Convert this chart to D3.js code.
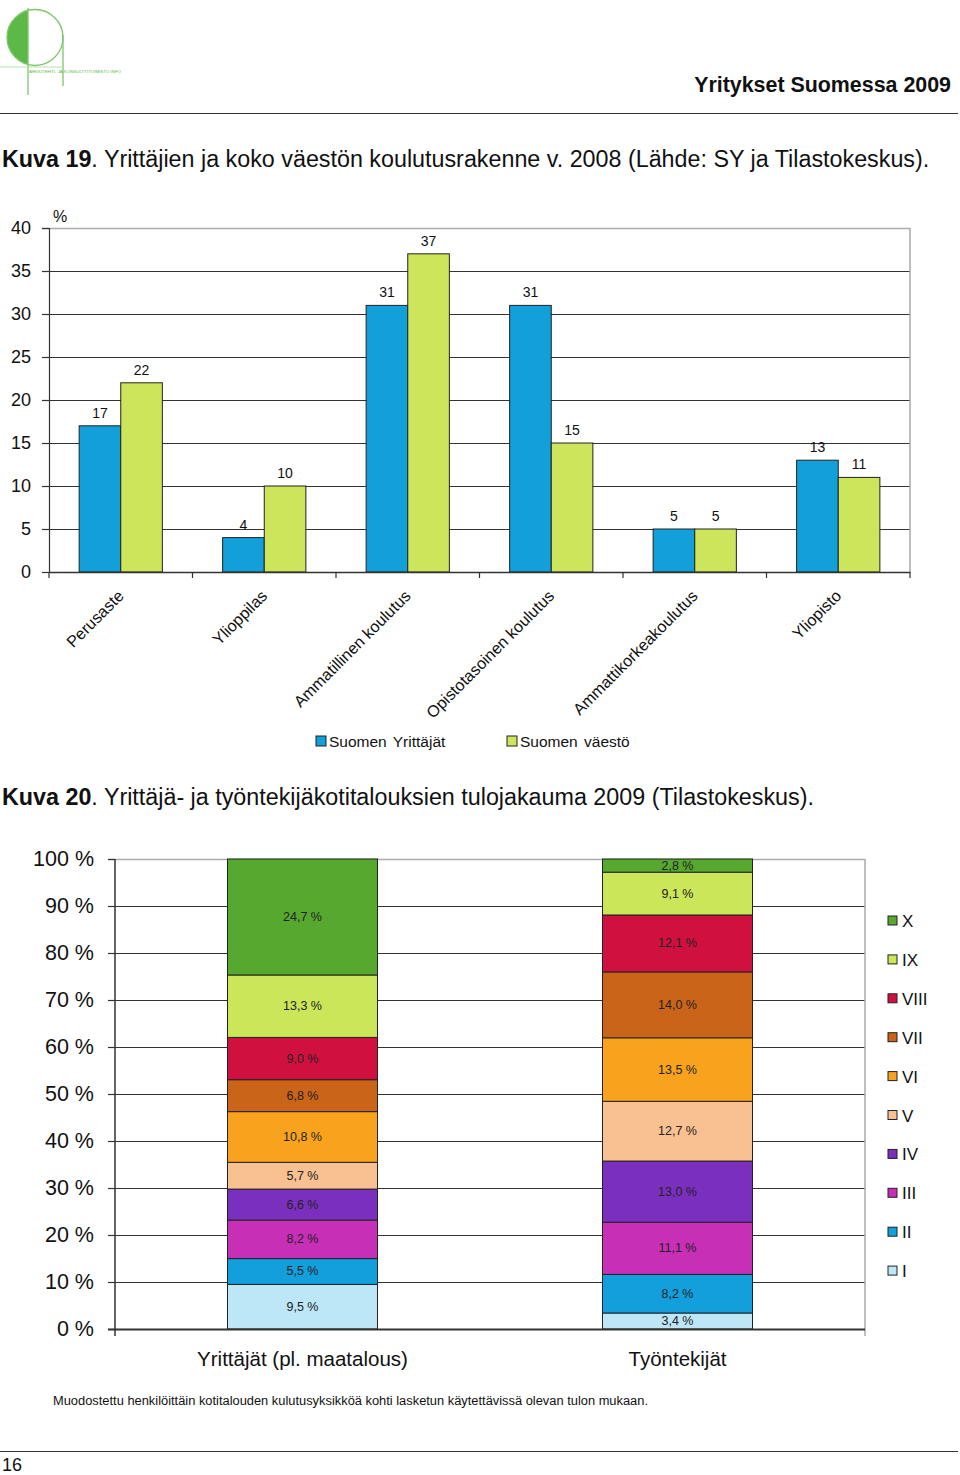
<!DOCTYPE html>
<html><head><meta charset="utf-8">
<script src="https://cdn.jsdelivr.net/npm/d3@7"></script>
<style>
html,body{margin:0;padding:0;background:#fff;}
svg{display:block;font-family:"Liberation Sans",Arial,sans-serif;}
</style></head>
<body>
<svg id="page" width="960" height="1475"></svg>
<script>
// ---------- Chart 1 data ----------
const eduCategories = ["Perusaste","Ylioppilas","Ammatillinen koulutus","Opistotasoinen koulutus","Ammattikorkeakoulutus","Yliopisto"];
const eduSeries = ["Suomen Yrittäjät","Suomen väestö"];
const yrittajat = [17,4,31,31,5,13];
const vaesto = [22,10,37,15,5,11];
const eduTicks = [0,5,10,15,20,25,30,35,40];

// ---------- Chart 2 data ----------
const incomeGroups = ["Yrittäjät (pl. maatalous)","Työntekijät"];
const deciles = ["I","II","III","IV","V","VI","VII","VIII","IX","X"];
const yrittajatShare = [9.5,5.5,8.2,6.6,5.7,10.8,6.8,9.0,13.3,24.7];
const tyontekijatShare = [3.4,8.2,11.1,13.0,12.7,13.5,14.0,12.1,9.1,2.8];
const shareTicks = [0,0.1,0.2,0.3,0.4,0.5,0.6,0.7,0.8,0.9,1.0];

const svg = d3.select("#page");

// ---------- Page header ----------
const logo = svg.append("g");
logo.append("clipPath").attr("id","lc").append("rect").attr("x",0).attr("y",0).attr("width",28).attr("height",80);
logo.append("circle").attr("cx",35).attr("cy",37.5).attr("r",28).attr("fill","#5cb947").attr("clip-path","url(#lc)");
logo.append("circle").attr("cx",35).attr("cy",37.5).attr("r",28).attr("fill","none").attr("stroke","#7cc76a").attr("stroke-width",1.3);
logo.append("line").attr("x1",28).attr("x2",28).attr("y1",8).attr("y2",95).attr("stroke","#7cc76a").attr("stroke-width",1.3);
logo.append("line").attr("x1",63).attr("x2",63).attr("y1",35).attr("y2",86).attr("stroke","#7cc76a").attr("stroke-width",1.3);
logo.append("line").attr("x1",0).attr("x2",63).attr("y1",67).attr("y2",67).attr("stroke","#a8d89c").attr("stroke-width",0.8);
logo.append("text").attr("x",29).attr("y",72.5).attr("font-size",4.2).attr("fill","#5cb947")
  .attr("textLength",92).attr("lengthAdjust","spacingAndGlyphs").text("ARKKITEHTI- JA KONSULTTITOIMISTO INFO");

svg.append("text").attr("x",951).attr("y",92).attr("text-anchor","end").attr("font-size",21.4).attr("font-weight","bold")
  .attr("fill","#111").text("Yritykset Suomessa 2009");
svg.append("line").attr("x1",0).attr("x2",958).attr("y1",113.5).attr("y2",113.5).attr("stroke","#333").attr("stroke-width",1.2);

function caption(y, bold, rest){
  const t = svg.append("text").attr("x",2).attr("y",y).attr("font-size",23.3).attr("fill","#111");
  t.append("tspan").attr("font-weight","bold").text(bold);
  t.append("tspan").text(rest);
}
caption(167,"Kuva 19",". Yrittäjien ja koko väestön koulutusrakenne v. 2008 (Lähde: SY ja Tilastokeskus).");
caption(805,"Kuva 20",". Yrittäjä- ja työntekijäkotitalouksien tulojakauma 2009 (Tilastokeskus).");

// ---------- Chart 1 ----------
{
  const g = svg.append("g");
  const x0 = d3.scaleBand().domain(eduCategories).range([49,910]).padding(0);
  const x1 = d3.scaleBand().domain(eduSeries).range([x0.bandwidth()*0.21, x0.bandwidth()*0.79]).padding(0);
  const y = d3.scaleLinear().domain([0,40]).range([572,228]);
  const colors = ["#129fda","#cce55a"];

  // gridlines
  g.append("g").selectAll("line").data(eduTicks.filter(d=>d>0&&d<40)).join("line")
    .attr("x1",42).attr("x2",910).attr("y1",d=>Math.round(y(d))+0.5).attr("y2",d=>Math.round(y(d))+0.5)
    .attr("stroke","#333").attr("stroke-width",1.2);
  // plot border top/right
  g.append("line").attr("x1",49).attr("x2",910).attr("y1",y(40)+0.5).attr("y2",y(40)+0.5).attr("stroke","#aaa").attr("stroke-width",1.5);
  g.append("line").attr("x1",42).attr("x2",49).attr("y1",y(40)+0.5).attr("y2",y(40)+0.5).attr("stroke","#333").attr("stroke-width",1.2);
  g.append("line").attr("x1",910).attr("x2",910).attr("y1",y(40)).attr("y2",y(0)).attr("stroke","#aaa").attr("stroke-width",1.5);

  // y axis
  const ya = g.append("g").attr("transform","translate(49,0)").call(d3.axisLeft(y).tickValues(eduTicks).tickSize(7).tickFormat(d3.format("d")));
  ya.select(".domain").attr("stroke","#333").attr("stroke-width",1.2);
  ya.selectAll(".tick line").attr("stroke","#333").attr("stroke-width",1.2);
  ya.selectAll(".tick text").attr("x",-18).attr("font-size",18).attr("fill","#111").attr("font-family","Liberation Sans, Arial, sans-serif");
  g.append("text").attr("x",53).attr("y",222).attr("font-size",16).attr("fill","#111").text("%");

  // bars
  const rows = eduCategories.map((c,i)=>({c, vals:[yrittajat[i], vaesto[i]]}));
  const grp = g.append("g").selectAll("g").data(rows).join("g").attr("transform",d=>`translate(${x0(d.c)},0)`);
  grp.selectAll("rect").data(d=>d.vals.map((v,j)=>({s:eduSeries[j], v, j}))).join("rect")
    .attr("x",d=>x1(d.s)).attr("width",x1.bandwidth())
    .attr("y",d=>y(d.v)).attr("height",d=>y(0)-y(d.v))
    .attr("fill",d=>colors[d.j]).attr("stroke","#222").attr("stroke-width",1);
  grp.selectAll("text").data(d=>d.vals.map((v,j)=>({s:eduSeries[j], v, j}))).join("text")
    .attr("x",d=>x1(d.s)+x1.bandwidth()/2).attr("y",d=>y(d.v)-8)
    .attr("text-anchor","middle").attr("font-size",14).attr("fill","#111").text(d=>d.v);

  // x axis
  const xa = g.append("g").attr("transform",`translate(0,${y(0)})`).call(d3.axisBottom(x0).tickSize(0).tickFormat(""));
  xa.select(".domain").attr("stroke","#333").attr("stroke-width",1.5);
  const bounds = eduCategories.map(c=>x0(c)).concat([910]);
  g.append("g").selectAll("line").data(bounds).join("line")
    .attr("x1",d=>d).attr("x2",d=>d).attr("y1",y(0)).attr("y2",y(0)+6).attr("stroke","#333").attr("stroke-width",1.2);
  g.append("g").selectAll("text").data(eduCategories).join("text")
    .attr("transform",d=>`translate(${x0(d)+x0.bandwidth()/2+4},${y(0)+25}) rotate(-45)`)
    .attr("text-anchor","end").attr("font-size",16.2).attr("fill","#111").text(d=>d);

  // legend
  const lg = g.append("g");
  const lx = [316,507];
  eduSeries.forEach((s,i)=>{
    lg.append("rect").attr("x",lx[i]).attr("y",736).attr("width",10).attr("height",10).attr("fill",colors[i]).attr("stroke","#222");
    lg.append("text").attr("x",lx[i]+13).attr("y",747).attr("font-size",15.5).attr("fill","#111").attr("word-spacing",2).text(s);
  });
}

// ---------- Chart 2 ----------
{
  const g = svg.append("g");
  const colors = ["#bde6f7","#139fdb","#c72fb7","#7b2fbe","#f9c091","#f9a21e","#c96418","#d0113f","#cce65a","#57a82f"];
  const x = d3.scaleBand().domain(incomeGroups).range([115,865]).paddingInner(0.6).paddingOuter(0.3);
  const y = d3.scaleLinear().domain([0,1]).range([1329,859]);
  const table = incomeGroups.map((grpName,i)=>{
    const vals = i===0 ? yrittajatShare : tyontekijatShare;
    const o = {group:grpName};
    deciles.forEach((d,k)=>o[d]=vals[k]);
    return o;
  });
  const stack = d3.stack().keys(deciles).offset(d3.stackOffsetExpand);
  const series = stack(table);

  // gridlines
  g.append("g").selectAll("line").data(shareTicks.filter(d=>d>0&&d<1)).join("line")
    .attr("x1",108).attr("x2",865).attr("y1",d=>Math.round(y(d))+0.5).attr("y2",d=>Math.round(y(d))+0.5)
    .attr("stroke","#333").attr("stroke-width",1.2);
  g.append("line").attr("x1",115).attr("x2",865).attr("y1",y(1)+0.5).attr("y2",y(1)+0.5).attr("stroke","#aaa").attr("stroke-width",1.5);
  g.append("line").attr("x1",108).attr("x2",115).attr("y1",y(1)+0.5).attr("y2",y(1)+0.5).attr("stroke","#333").attr("stroke-width",1.2);
  g.append("line").attr("x1",865).attr("x2",865).attr("y1",y(1)).attr("y2",1336).attr("stroke","#aaa").attr("stroke-width",1.5);

  const ya = g.append("g").attr("transform","translate(115,0)")
    .call(d3.axisLeft(y).tickValues(shareTicks).tickSize(7).tickFormat(d=>Math.round(d*100)+" %"));
  ya.select(".domain").attr("stroke","#333").attr("stroke-width",1.5).attr("d","M0,859V1336");
  ya.selectAll(".tick line").attr("stroke","#333").attr("stroke-width",1.2);
  ya.selectAll(".tick text").attr("x",-21).attr("font-size",21.5).attr("fill","#111").attr("font-family","Liberation Sans, Arial, sans-serif");

  // bars
  const sg = g.append("g").selectAll("g").data(series).join("g").attr("fill",(d,i)=>colors[i]);
  sg.selectAll("rect").data(d=>d.map(p=>Object.assign([p[0],p[1]],{data:p.data}))).join("rect")
    .attr("x",d=>x(d.data.group)).attr("width",x.bandwidth())
    .attr("y",d=>y(d[1])).attr("height",d=>y(d[0])-y(d[1]))
    .attr("stroke","#222").attr("stroke-width",1);
  const lab = g.append("g");
  series.forEach((s,i)=>{
    s.forEach(p=>{
      lab.append("text").attr("x",x(p.data.group)+x.bandwidth()/2).attr("y",(y(p[0])+y(p[1]))/2+4)
        .attr("text-anchor","middle").attr("font-size",12.5).attr("fill","#222")
        .text(d3.format(".1f")(p.data[s.key]).replace(".",",")+" %");
    });
  });

  // baseline
  g.append("line").attr("x1",108).attr("x2",865).attr("y1",y(0)+0.5).attr("y2",y(0)+0.5).attr("stroke","#333").attr("stroke-width",2);

  // category labels
  g.append("g").selectAll("text").data(incomeGroups).join("text")
    .attr("x",d=>x(d)+x.bandwidth()/2).attr("y",1366).attr("text-anchor","middle").attr("font-size",20.5).attr("fill","#111").text(d=>d);

  // legend
  const lg = g.append("g");
  deciles.slice().reverse().forEach((d,i)=>{
    const k = deciles.length-1-i;
    const yy = 921 + i*38.9;
    lg.append("rect").attr("x",888).attr("y",yy-5).attr("width",9).attr("height",9).attr("fill",colors[k]).attr("stroke","#222");
    lg.append("text").attr("x",902).attr("y",yy+6).attr("font-size",17).attr("fill","#111").text(d);
  });

  svg.append("text").attr("x",53).attr("y",1405).attr("font-size",12).attr("fill","#111")
    .attr("font-family","Liberation Sans Narrow, Liberation Sans, Arial, sans-serif")
    .attr("textLength",595).attr("lengthAdjust","spacingAndGlyphs")
    .text("Muodostettu henkilöittäin kotitalouden kulutusyksikköä kohti lasketun käytettävissä olevan tulon mukaan.");
}

// footer
svg.append("line").attr("x1",0).attr("x2",958).attr("y1",1451.5).attr("y2",1451.5).attr("stroke","#333").attr("stroke-width",1.2);
svg.append("text").attr("x",2).attr("y",1471).attr("font-size",18).attr("fill","#111").text("16");
</script>
</body></html>
